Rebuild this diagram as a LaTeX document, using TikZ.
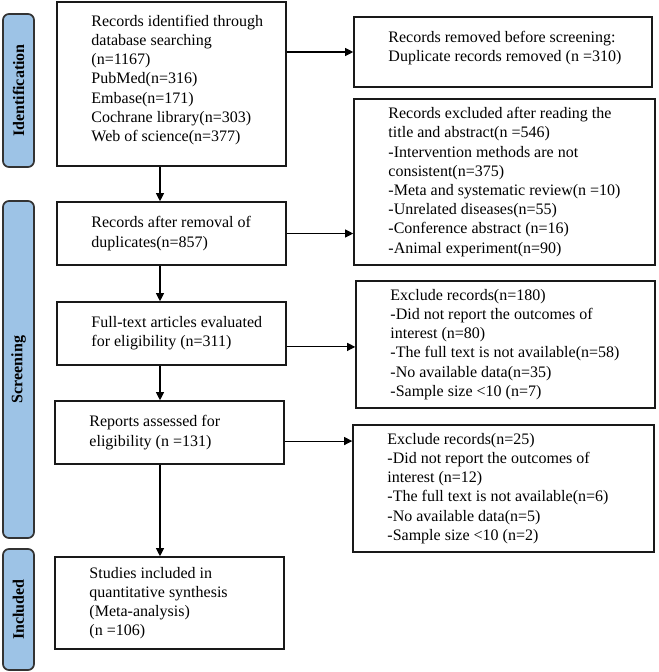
\documentclass[tikz,border=0pt]{standalone}
\usepackage{fontspec}
\setmainfont{Liberation Serif}
\usepackage{xcolor}
\usepackage{tikz}
\usetikzlibrary{positioning,fit,arrows.meta}

\definecolor{phaseblue}{HTML}{9DC3E6}
\definecolor{phaseline}{HTML}{333333}

\begin{document}
\begin{tikzpicture}[x=0.75pt, y=-0.75pt,
    frame/.style={draw=black!90, line width=1.2pt, inner sep=0pt},
    txt/.style={inner sep=0pt, align=left, font=\fontsize{12pt}{14.4pt}\selectfont},
    phase/.style={draw=phaseline, fill=phaseblue, line width=1.3pt, rounded corners=4.5pt, inner sep=0pt},
    phaselabel/.style={rotate=90, font=\fontsize{12pt}{14.4pt}\selectfont\bfseries},
    arr/.style={-{Triangle[length=6pt,width=6pt]}, line width=0.8pt}]
  \useasboundingbox (0,0) rectangle (658,672);

  % Phase bars on the left
  \node[phase, fit={(3,14) (34,167)}] (idf) {};
  \node[phaselabel] at (idf) {Identification};
  \node[phase, fit={(3,201) (34,538)}] (scr) {};
  \node[phaselabel] at (scr) {Screening};
  \node[phase, fit={(3,549) (34,670)}] (inc) {};
  \node[phaselabel] at (inc) {Included};

  % Main column
  \node[frame, fit={(57,2) (286,166)}] (b1) {};
  \node[txt, right=26.25pt of b1.west, yshift=3pt] (t1) {Records identified through\\database searching\\(n=1167)\\PubMed(n=316)\\Embase(n=171)\\Cochrane library(n=303)\\Web of science(n=377)};

  \node[frame, fit={(57,202) (286,265)}] (b2) {};
  \node[txt, right=26.25pt of b2.west] (t2) {Records after removal of\\duplicates(n=857)};

  \node[frame, fit={(57,302) (286,365)}] (b3) {};
  \node[txt, right=26.25pt of b3.west] (t3) {Full-text articles evaluated\\for eligibility (n=311)};

  \node[frame, fit={(55,401) (284,464)}] (b4) {};
  \node[txt, right=26.25pt of b4.west] (t4) {Reports assessed for\\eligibility (n =131)};

  \node[frame, fit={(55,557) (284,649)}] (b5) {};
  \node[txt, right=26.25pt of b5.west] (t5) {Studies included in\\quantitative synthesis\\(Meta-analysis)\\(n =106)};

  % Excluded records on the right
  \node[frame, fit={(354,17) (652,87)}] (r1) {};
  \node[txt, right=26.25pt of r1.west, yshift=3pt] (s1) {Records removed before screening:\\Duplicate records removed (n =310)};

  \node[frame, fit={(354,99) (655,265)}] (r2) {};
  \node[txt, right=26.25pt of r2.west] (s2) {Records excluded after reading the\\title and abstract(n =546)\\-Intervention methods are not\\consistent(n=375)\\-Meta and systematic review(n =10)\\-Unrelated diseases(n=55)\\-Conference abstract (n=16)\\-Animal experiment(n=90)};

  \node[frame, fit={(356,281) (655,408)}] (r3) {};
  \node[txt, right=26.25pt of r3.west] (s3) {Exclude records(n=180)\\-Did not report the outcomes of\\interest (n=80)\\-The full text is not available(n=58)\\-No available data(n=35)\\-Sample size <10 (n=7)};

  \node[frame, fit={(353,425) (654,552)}] (r4) {};
  \node[txt, right=26.25pt of r4.west] (s4) {Exclude records(n=25)\\-Did not report the outcomes of\\interest (n=12)\\-The full text is not available(n=6)\\-No available data(n=5)\\-Sample size <10 (n=2)};

  % Flow down the main column
  \coordinate (spine) at (160,0);
  \draw[arr] (b1.south -| spine) -- (b2.north -| spine);
  \draw[arr] (b2.south -| spine) -- (b3.north -| spine);
  \draw[arr] (b3.south -| spine) -- (b4.north -| spine);
  \draw[arr] (b4.south -| spine) -- (b5.north -| spine);

  % Arrows to the exclusion boxes
  \draw[arr] (b1.east |- r1.west) -- (r1.west);
  \draw[arr] (b2.east) -- (b2.east -| r2.west);
  \draw[arr] ([yshift=-1.8pt]b3.east |- r3.west) -- ([yshift=-1.8pt]r3.west);
  \draw[arr] ([yshift=-6.4pt]b4.east) -- ([yshift=-6.4pt]b4.east -| r4.west);
\end{tikzpicture}
\end{document}
